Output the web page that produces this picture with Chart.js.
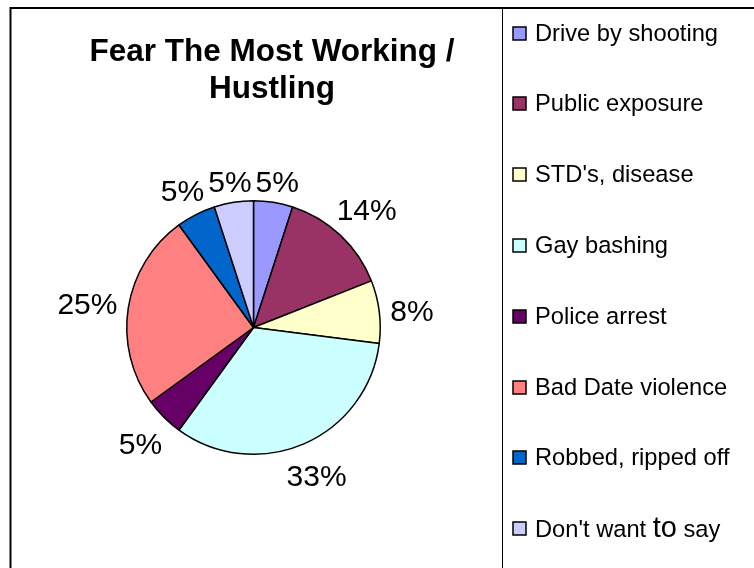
<!DOCTYPE html>
<html>
<head>
<meta charset="utf-8">
<title>Fear The Most Working / Hustling</title>
<script src="https://cdn.jsdelivr.net/npm/chart.js@4.4.0/dist/chart.umd.min.js"></script>
<style>
  html, body { margin: 0; padding: 0; background: #fff; }
  #wrap { width: 754px; height: 568px; position: relative; }
</style>
</head>
<body>
<div id="wrap"><canvas id="pieChart" width="754" height="568"></canvas></div>
<script>
// Chart data
const titleLines = ['Fear The Most Working /', 'Hustling'];
const categories = ['Drive by shooting', 'Public exposure', "STD's, disease", 'Gay bashing',
    'Police arrest', 'Bad Date violence', 'Robbed, ripped off', "Don't want to say"];
const percentages = [5, 14, 8, 33, 5, 25, 5, 5];
const sliceColors = ['#9999FF', '#993366', '#FFFFCC', '#CCFFFF', '#660066', '#FF8080', '#0066CC', '#CCCCFF'];

const FONT = '"Liberation Sans", Arial, Helvetica, sans-serif';

// Frame, title and legend are painted straight onto the canvas
const decorPlugin = {
    id: 'decor',
    afterDraw(chart) {
        const ctx = chart.ctx;
        ctx.save();

        // outer frame and the legend divider
        ctx.strokeStyle = '#000';
        ctx.lineWidth = 2;
        ctx.strokeRect(10.5, 8, 900, 700);
        ctx.lineWidth = 1;
        ctx.beginPath();
        ctx.moveTo(502.5, 8);
        ctx.lineTo(502.5, 568);
        ctx.stroke();

        // title
        ctx.fillStyle = '#000';
        ctx.font = 'bold 31.5px ' + FONT;
        ctx.textAlign = 'center';
        ctx.textBaseline = 'alphabetic';
        ctx.fillText(titleLines[0], 272, 61);
        ctx.fillText(titleLines[1], 272, 98);

        // legend
        ctx.textAlign = 'left';
        ctx.textBaseline = 'middle';
        categories.forEach((name, i) => {
            const y = Math.round(32.5 + i * 70.8);
            ctx.fillStyle = sliceColors[i];
            ctx.fillRect(513, y - 6, 13, 13);
            ctx.strokeStyle = '#000';
            ctx.lineWidth = 1.5;
            ctx.strokeRect(513, y - 6, 13, 13);
            ctx.fillStyle = '#000';
            if (name === "Don't want to say") {
                // the word "to" is set a little larger in this entry
                let x = 535;
                const parts = [["Don't want ", 23.7], ['to', 29], [' say', 23.7]];
                parts.forEach(([txt, size]) => {
                    ctx.font = size + 'px ' + FONT;
                    ctx.textBaseline = 'alphabetic';
                    ctx.fillText(txt, x, y + 8.5);
                    x += ctx.measureText(txt).width;
                });
                ctx.textBaseline = 'middle';
            } else {
                ctx.font = '23.7px ' + FONT;
                ctx.fillText(name, 535, y + 1);
            }
        });
        ctx.restore();
    }
};

// Percent labels outside each slice
const outsideLabels = {
    id: 'outsideLabels',
    afterDatasetsDraw(chart) {
        const ctx = chart.ctx;
        const meta = chart.getDatasetMeta(0);
        ctx.save();
        ctx.font = '30px ' + FONT;
        ctx.fillStyle = '#000';
        ctx.textAlign = 'center';
        ctx.textBaseline = 'middle';
        meta.data.forEach((arc, i) => {
            const p = arc.getProps(['x', 'y', 'startAngle', 'endAngle', 'outerRadius'], true);
            const mid = (p.startAngle + p.endAngle) / 2;
            const text = percentages[i] + '%';
            const w = ctx.measureText(text).width;
            const h = 22;
            const dist = p.outerRadius + 10 + Math.abs(Math.cos(mid)) * w / 2 + Math.abs(Math.sin(mid)) * h / 2;
            ctx.fillText(text, p.x + Math.cos(mid) * dist, p.y + Math.sin(mid) * dist + 5);
        });
        ctx.restore();
    }
};

new Chart(document.getElementById('pieChart'), {
    type: 'pie',
    data: {
        labels: categories,
        datasets: [{
            data: percentages,
            backgroundColor: sliceColors,
            borderColor: '#000',
            borderWidth: 1.5,
            hoverOffset: 0
        }]
    },
    options: {
        responsive: false,
        animation: false,
        events: [],
        layout: {
            padding: { left: 126, top: 200, right: 373, bottom: 113 }
        },
        plugins: {
            legend: { display: false },
            title: { display: false },
            tooltip: { enabled: false }
        }
    },
    plugins: [outsideLabels, decorPlugin]
});
</script>
</body>
</html>
